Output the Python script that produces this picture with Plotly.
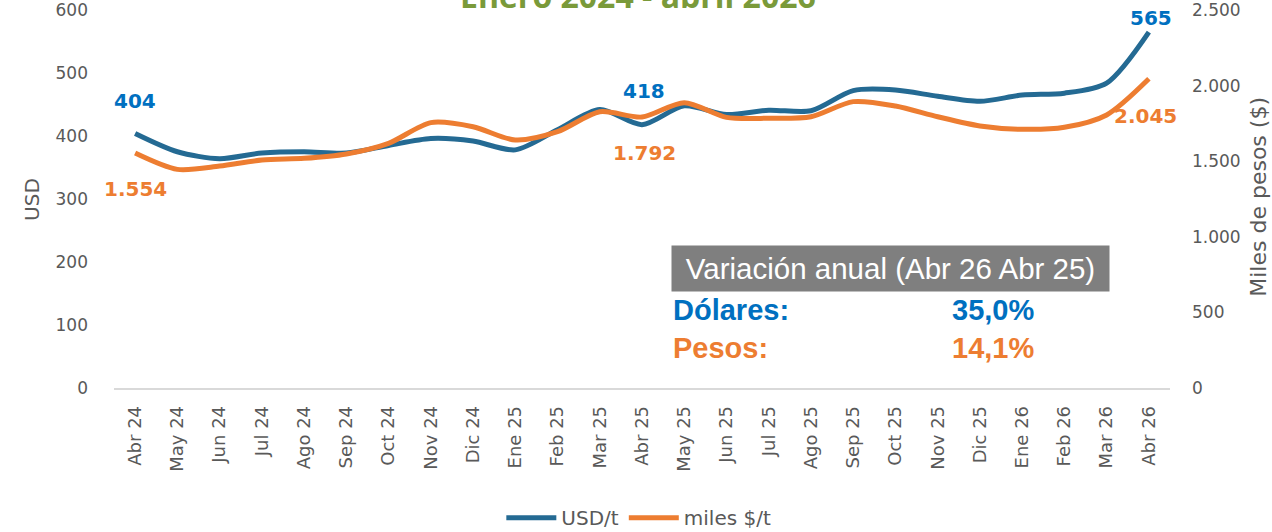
import plotly.graph_objects as go

months = ["Abr 24", "May 24", "Jun 24", "Jul 24", "Ago 24", "Sep 24", "Oct 24", "Nov 24",
          "Dic 24", "Ene 25", "Feb 25", "Mar 25", "Abr 25", "May 25", "Jun 25", "Jul 25",
          "Ago 25", "Sep 25", "Oct 25", "Nov 25", "Dic 25", "Ene 26", "Feb 26", "Mar 26", "Abr 26"]
usd_t = [404, 375, 364, 373, 375, 373, 385, 396, 392, 378, 410, 442, 418, 448, 434, 441,
         440, 472, 473, 463, 455, 465, 468, 484, 565]
miles_pesos_t = [1554, 1446, 1468, 1508, 1519, 1548, 1618, 1755, 1728, 1640, 1695, 1827, 1792,
                 1887, 1790, 1784, 1794, 1894, 1865, 1794, 1733, 1711, 1724, 1806, 2045]
left_ticks = [0, 100, 200, 300, 400, 500, 600]
right_ticks = [0, 500, 1000, 1500, 2000, 2500]

BLUE_LINE = "#246A93"
ORANGE = "#ED7D31"
BLUE_TXT = "#0070C0"
GRAY = "#595959"
FONT = "DejaVu Sans"
AR = "Liberation Sans, Arial"

fig = go.Figure()
fig.add_trace(go.Scatter(x=months, y=usd_t, name="USD/t", mode="lines",
                         line=dict(color=BLUE_LINE, width=5, shape="spline", smoothing=0.8),
                         yaxis="y"))
fig.add_trace(go.Scatter(x=months, y=miles_pesos_t, name="miles $/t", mode="lines",
                         line=dict(color=ORANGE, width=5, shape="spline", smoothing=0.8),
                         yaxis="y2"))

# data labels (first, Abr 25, last)
labels = [
    (0, usd_t[0], "y", BLUE_TXT, 0, 32),
    (0, miles_pesos_t[0], "y2", ORANGE, 0, -36),
    (12, usd_t[12], "y", BLUE_TXT, 2, 34),
    (12, miles_pesos_t[12], "y2", ORANGE, 2, -36),
    (24, usd_t[24], "y", BLUE_TXT, 2, 14),
    (24, miles_pesos_t[24], "y2", ORANGE, -3, -37),
]
for i, val, yref, col, xs, ys in labels:
    txt = f"{val:,}".replace(",", ".")
    fig.add_annotation(x=months[i], y=val, xref="x", yref=yref, text=f"<b>{txt}</b>",
                       showarrow=False, xshift=xs, yshift=ys,
                       font=dict(family=FONT, size=20, color=col))

# title (partially cut at top, as in the original)
fig.add_annotation(x=0.496, y=1, xref="paper", yref="paper", yanchor="bottom",
                   text="<b>Enero 2024 - abril 2026</b>", showarrow=False, yshift=-9,
                   font=dict(family="Open Sans", size=32, color="#7A9A3A"))

# axis titles
fig.add_annotation(x=-0.0777, y=0.5, xref="paper", yref="paper", text="USD", textangle=-90,
                   xanchor="center", yanchor="middle",
                   showarrow=False, font=dict(family=FONT, size=20, color=GRAY))
fig.add_annotation(x=1.083, y=0.505, xref="paper", yref="paper", text="Miles de pesos ($)",
                   xanchor="center", yanchor="middle",
                   textangle=-90, showarrow=False, font=dict(family=FONT, size=22, color=GRAY))

# variation box
fig.add_annotation(x=0.5275, y=0.378, xref="paper", yref="paper", xanchor="left", yanchor="top",
                   text="Variación anual (Abr 26 Abr 25)", showarrow=False,
                   bgcolor="#7F7F7F", width=437, height=45, borderpad=0, align="center",
                   font=dict(family=AR, size=29.5, color="white"))
fig.add_annotation(x=0.5275, y=0.2063, xref="paper", yref="paper", xanchor="left", yanchor="middle",
                   text="<b>Dólares:</b>", showarrow=False,
                   font=dict(family=AR, size=29, color=BLUE_TXT))
fig.add_annotation(x=0.873, y=0.2063, xref="paper", yref="paper", xanchor="right", yanchor="middle",
                   text="<b>35,0%</b>", showarrow=False,
                   font=dict(family=AR, size=29, color=BLUE_TXT))
fig.add_annotation(x=0.5275, y=0.1058, xref="paper", yref="paper", xanchor="left", yanchor="middle",
                   text="<b>Pesos:</b>", showarrow=False,
                   font=dict(family=AR, size=29, color=ORANGE))
fig.add_annotation(x=0.873, y=0.1058, xref="paper", yref="paper", xanchor="right", yanchor="middle",
                   text="<b>14,1%</b>", showarrow=False,
                   font=dict(family=AR, size=29, color=ORANGE))

fig.update_layout(
    width=1272, height=532,
    margin=dict(l=114, r=102, t=10, b=144, autoexpand=False),
    paper_bgcolor="white", plot_bgcolor="white",
    separators=",.",
    font=dict(family=FONT, size=17, color=GRAY),
    showlegend=True,
    legend=dict(orientation="h", x=0.497, xanchor="center", y=-0.343, yanchor="middle",
                font=dict(family=FONT, size=20, color=GRAY), itemwidth=50),
    xaxis=dict(type="category", range=[-0.5, 24.5], tickangle=-90, showgrid=False,
               showline=True, linecolor="#D9D9D9", linewidth=1.5, ticks="", automargin=False,
               tickfont=dict(family=FONT, size=18, color=GRAY), ticklabelstandoff=9),
    yaxis=dict(range=[0, 600], tickvals=left_ticks, showgrid=False, zeroline=False,
               showline=False, ticks="", ticklabelstandoff=25, automargin=False,
               ticklabeloverflow="allow",
               tickfont=dict(family=FONT, size=17, color=GRAY)),
    yaxis2=dict(range=[0, 2500], tickvals=right_ticks, overlaying="y", side="right",
                showgrid=False, zeroline=False, showline=False, ticks="", automargin=False,
                separatethousands=True, ticklabelstandoff=21, ticklabeloverflow="allow",
                tickfont=dict(family=FONT, size=17, color=GRAY)),
)

fig.write_html("out.html", config={"displayModeBar": False},
               post_script="document.body.style.margin='0';")
